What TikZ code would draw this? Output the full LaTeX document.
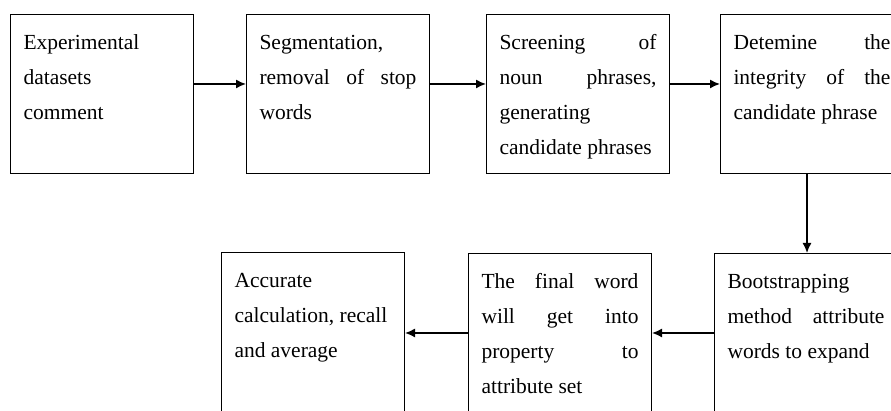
\documentclass[tikz,border=0pt]{standalone}
\usepackage{fontspec}
\setmainfont{Liberation Serif}
\usetikzlibrary{arrows.meta}
\hyphenpenalty=10000

\tikzset{
    stage/.style={draw, line width=1pt, anchor=north west, inner xsep=13pt, inner ysep=0pt,
        text width=157pt, text height=35pt, text depth=124pt, align=justify,
        font=\fontsize{21.5}{35}\selectfont},
    flow/.style={-{Latex[length=10pt,width=9pt]}, line width=1.5pt}
}

\begin{document}
\begin{tikzpicture}[x=1pt,y=1pt]
        \useasboundingbox (0,0) rectangle (891,411);
        \clip (0,0) rectangle (891,411);

        % top row, left to right
        \node[stage] (expdata) at (10,397) {Experimental\\ datasets\\ comment};
        \node[stage] (segment) at (246,397) {Segmentation,\\ removal of stop\linebreak words};
        \node[stage] (screen) at (486,397) {Screening of\linebreak noun phrases,\linebreak generating\\ candidate phrases};
        \node[stage] (integrity) at (720,397) {Detemine the\linebreak integrity of the\linebreak candidate phrase};

        % bottom row, right to left
        \node[stage, text depth=125pt] (bootstrap) at (714,158) {Bootstrapping\\ method attribute\linebreak words to expand};
        \node[stage, text depth=125pt] (finalword) at (468,158) {The final word\linebreak will get into\linebreak property to\linebreak attribute set};
        \node[stage, text depth=126pt] (accuracy) at (221,159) {Accurate\\ calculation, recall\\ and average};

        \draw[flow] ([yshift=-70pt]expdata.north east) -- ([yshift=-70pt]segment.north west);
        \draw[flow] ([yshift=-70pt]segment.north east) -- ([yshift=-70pt]screen.north west);
        \draw[flow] ([yshift=-70pt]screen.north east) -- ([yshift=-70pt]integrity.north west);

        \coordinate (drop) at ([xshift=87pt]integrity.south west);
        \draw[flow] (drop) -- (drop |- bootstrap.north);

        \draw[flow] ([yshift=-80pt]bootstrap.north west) -- ([yshift=-80pt]finalword.north east);
        \draw[flow] ([yshift=-80pt]finalword.north west) -- ([yshift=-80pt]finalword.north west -| accuracy.east);
    \end{tikzpicture}
\end{document}
